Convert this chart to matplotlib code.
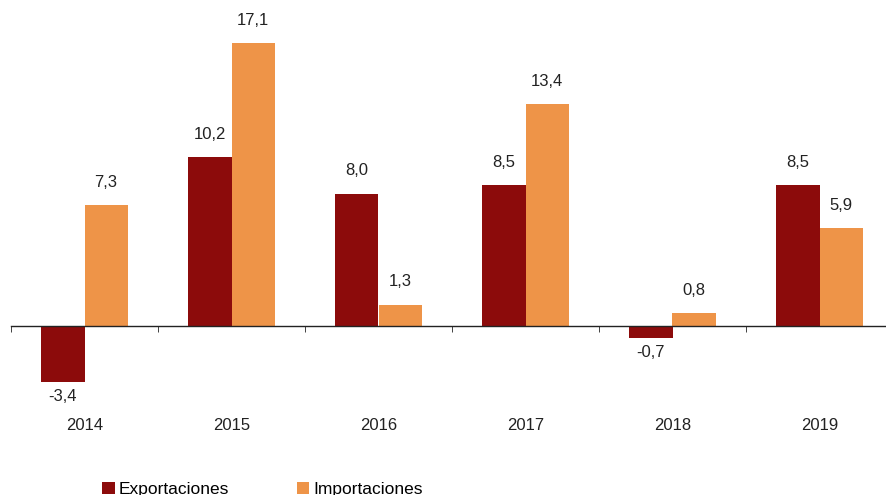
import matplotlib
matplotlib.use("Agg")
import matplotlib.pyplot as plt
import numpy as np

years = ["2014", "2015", "2016", "2017", "2018", "2019"]
exportaciones = [-3.4, 10.2, 8.0, 8.5, -0.7, 8.5]
importaciones = [7.3, 17.1, 1.3, 13.4, 0.8, 5.9]
series_names = ["Exportaciones", "Importaciones"]

c_exp = "#8C0B0B"
c_imp = "#EE9448"

plt.rcParams["font.family"] = ["Liberation Sans", "DejaVu Sans"]

fig = plt.figure(figsize=(8.86, 4.95), dpi=100)
ax = fig.add_axes([11/886, 1 - 400.5/495, 882/886, (400.5 - 28.1)/495])

x = np.arange(len(years))
w = 0.293
b1 = ax.bar(x - w/2, exportaciones, w, color=c_exp, label=series_names[0])
b2 = ax.bar(x + w/2, importaciones, w, color=c_imp, label=series_names[1])

ax.set_xlim(-0.5, len(years) - 0.5)
ax.set_ylim(-4.5, 18)

def fmt(v):
    return f"{v:.1f}".replace(".", ",")

for bars, vals in ((b1, exportaciones), (b2, importaciones)):
    for r, v in zip(bars, vals):
        cx = r.get_x() + r.get_width()/2
        if v >= 0:
            ax.annotate(fmt(v), (cx, v), xytext=(0, 11), textcoords="offset points",
                        ha="center", va="bottom", fontsize=12, color="#222222")
        else:
            ax.annotate(fmt(v), (cx, v), xytext=(0, -5), textcoords="offset points",
                        ha="center", va="top", fontsize=12, color="#222222")

for s in ["top", "right", "left"]:
    ax.spines[s].set_visible(False)
ax.spines["bottom"].set_position(("data", 0))
ax.spines["bottom"].set_color("#222222")
ax.spines["bottom"].set_linewidth(1.0)
ax.set_yticks([])
ax.set_xticks(x)
ax.set_xticklabels(years, fontsize=12, color="#222222")
ax.tick_params(axis="x", which="major", length=0, pad=66)
ax.set_xticks(np.arange(-0.5, len(years) + 0.5, 1), minor=True)
ax.tick_params(axis="x", which="minor", length=4, direction="out", color="#222222")

fig.legend(handles=[b1, b2], labels=series_names, loc="lower left",
           bbox_to_anchor=(0.098, -0.035), ncol=2, frameon=False, fontsize=12.5,
           handlelength=0.7, handleheight=0.7, handletextpad=0.25, columnspacing=3.9)

fig.savefig("out.png", dpi=100)
